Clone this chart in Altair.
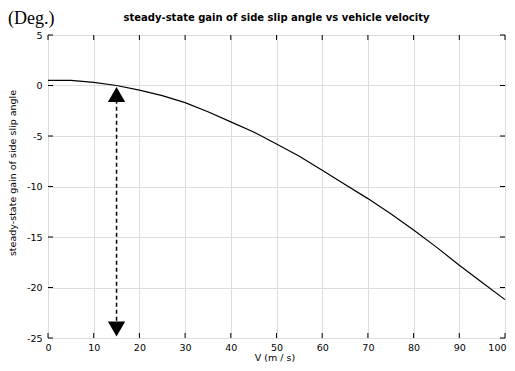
import altair as alt
import pandas as pd

# Data
V = [0, 5, 10, 15, 20, 25, 30, 35, 40, 45, 50, 55, 60, 65, 70, 75, 80, 85, 90, 95, 100]
gain = [0.5, 0.5, 0.3, 0.0, -0.45, -1.0, -1.7, -2.6, -3.6, -4.6, -5.8, -7.0, -8.4,
        -9.8, -11.2, -12.7, -14.3, -16.0, -17.8, -19.5, -21.2]
x_ticks = [0, 10, 20, 30, 40, 50, 60, 70, 80, 90, 100]
y_ticks = [5, 0, -5, -10, -15, -20, -25]
arrow_v = [15, 15]
arrow_y = [-1.4, -23.6]
arrow_head_y = [-0.9, -24.1]
arrow_shape = ["triangle-up", "triangle-down"]
title_text = "steady-state gain of side slip angle vs vehicle velocity"
y_title = "steady-state gain of side slip angle"
x_title = "V  (m / s)"
unit_text = "(Deg.)"

df = pd.DataFrame({"V": V, "gain": gain})
df_arrow = pd.DataFrame({"V": arrow_v, "y": arrow_y})
df_heads = pd.DataFrame({"V": arrow_v, "y": arrow_head_y, "shape": arrow_shape})
df_xt = pd.DataFrame({"V": x_ticks})
df_yt = pd.DataFrame({"y": y_ticks})

FONT = "DejaVu Sans"
W, H = 457, 303
xscale = alt.Scale(domain=[0, 100], nice=False, zero=False)
yscale = alt.Scale(domain=[-25, 5], nice=False, zero=False)

xaxis = alt.Axis(values=x_ticks, grid=True, ticks=False, domain=False, title=None,
                 labelFont=FONT, labelFontSize=9.5, labelPadding=4, labelColor="black",
                 labelFlush=False,
                 labelAlign=alt.expr("datum.value == 100 ? 'right' : 'center'"),
                 labelOffset=alt.expr("datum.value == 100 ? 1 : 0"))
yaxis = alt.Axis(values=y_ticks, grid=True, ticks=False, domain=False, title=None,
                 labelFont=FONT, labelFontSize=9.5, labelPadding=6, labelColor="black",
                 labelExpr="datum.value < 0 ? '-' + abs(datum.value) : '' + datum.value")

line = alt.Chart(df).mark_line(color="black", strokeWidth=1.2).encode(
    x=alt.X("V:Q", scale=xscale, axis=xaxis),
    y=alt.Y("gain:Q", scale=yscale, axis=yaxis),
)

arrow = alt.Chart(df_arrow).mark_line(color="black", strokeWidth=1.5, strokeDash=[4, 3]).encode(
    x=alt.X("V:Q", scale=xscale), y=alt.Y("y:Q", scale=yscale)
)

heads = alt.Chart(df_heads).mark_point(filled=True, color="black", size=300, opacity=1).encode(
    x=alt.X("V:Q", scale=xscale), y=alt.Y("y:Q", scale=yscale),
    shape=alt.Shape("shape:N", scale=None, legend=None),
)

xt_bot = alt.Chart(df_xt).mark_rule(color="black").encode(
    x=alt.X("V:Q", scale=xscale), y=alt.value(H), y2=alt.value(H - 5))
xt_top = alt.Chart(df_xt).mark_rule(color="black").encode(
    x=alt.X("V:Q", scale=xscale), y=alt.value(0), y2=alt.value(5))
yt_left = alt.Chart(df_yt).mark_rule(color="black").encode(
    y=alt.Y("y:Q", scale=yscale), x=alt.value(0), x2=alt.value(5))
yt_right = alt.Chart(df_yt).mark_rule(color="black").encode(
    y=alt.Y("y:Q", scale=yscale), x=alt.value(W - 5), x2=alt.value(W))


def label(text, x, y, **kw):
    return alt.Chart(pd.DataFrame({"t": [text]})).mark_text(color="black", **kw).encode(
        text="t:N", x=alt.value(x), y=alt.value(y))


deg = label(unit_text, -40, -11, font="Liberation Serif", fontSize=18, align="left",
            baseline="alphabetic")
ttl = label(title_text, W / 2, -17, font=FONT, fontSize=10, fontWeight="bold",
            align="center", baseline="middle")
xtl = label(x_title, 227, 323, font=FONT, fontSize=9.5, align="center", baseline="middle")
ytl = label(y_title, -35, 138, font=FONT, fontSize=9.5, align="center", baseline="middle",
            angle=270)

chart = alt.layer(line, arrow, heads, xt_bot, xt_top, yt_left, yt_right,
                  deg, ttl, xtl, ytl).properties(
    width=W, height=H,
    autosize=alt.AutoSizeParams(type="none"),
    padding={"left": 40, "top": 27, "right": 2, "bottom": 25},
).configure_view(stroke="black", strokeWidth=1.2).configure_axis(
    gridColor="#444", gridDash=[1, 3], gridOpacity=0.8, gridWidth=1
).configure(background="white")

chart.save("out.html", embed_options={"renderer": "svg", "actions": False})
